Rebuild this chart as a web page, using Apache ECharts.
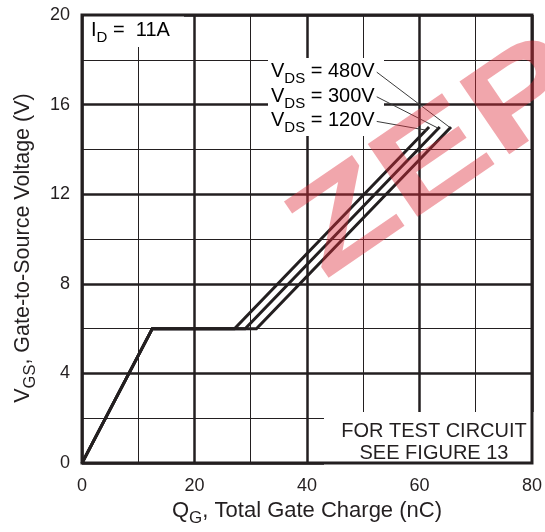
<!DOCTYPE html>
<html>
<head>
<meta charset="utf-8">
<script src="https://cdn.jsdelivr.net/npm/echarts@6/dist/echarts.min.js"></script>
<style>
  html, body { margin: 0; padding: 0; background: #fff; }
  #chart { width: 545px; height: 532px; }
</style>
</head>
<body>
<div id="chart"></div>
<script>
// Gate charge curves (QG in nC, VGS in V) at ID = 11 A
const qg120 = [0, 12.5, 27.1, 61.7];
const vgs120 = [0, 6, 6, 15];
const qg300 = [0, 12.5, 29.0, 63.6];
const vgs300 = [0, 6, 6, 15];
const qg480 = [0, 12.5, 31.0, 65.6];
const vgs480 = [0, 6, 6, 15];

// Leader lines from each VDS label to its curve
const lead480X = [52.4, 65.3];
const lead480Y = [17.45, 15.0];
const lead300X = [52.4, 63.3];
const lead300Y = [16.35, 14.95];
const lead120X = [52.4, 61.4];
const lead120Y = [15.25, 14.85];

const vdsLabels = ['480V', '300V', '120V'];
const xTickLabels = ['0', '20', '40', '60', '80'];
const yTickLabels = ['0', '4', '8', '12', '16', '20'];

const INK = '#231f20';
const FONT = 'Liberation Sans, Arial, Helvetica, sans-serif';

const pairs = (xs, ys) => xs.map((x, i) => [x, ys[i]]);

const chart = echarts.init(document.getElementById('chart'));

const curve = (name, xs, ys) => ({
  name, type: 'line', xAxisIndex: 0, yAxisIndex: 0,
  data: pairs(xs, ys), symbol: 'none', z: 5,
  lineStyle: { color: INK, width: 3, join: 'miter' }, silent: true
});
const leader = (xs, ys) => ({
  type: 'line', xAxisIndex: 0, yAxisIndex: 0,
  data: pairs(xs, ys), symbol: 'none', z: 5,
  lineStyle: { color: '#3b3b3b', width: 1 }, silent: true
});

const subRich = (big, small, drop) => ({
  a: { fontSize: big, fontFamily: FONT, color: INK, verticalAlign: 'bottom', padding: [0, 0, drop, 0] },
  b: { fontSize: small, fontFamily: FONT, color: INK, verticalAlign: 'bottom' }
});

const vdsText = (label, y) => ({
  type: 'text', left: 271, top: y, z: 3, silent: true,
  style: {
    text: '{a|V}{b|DS}{a| = ' + label + '}',
    rich: subRich(20, 15, 5)
  }
});

chart.setOption({
  animation: false,
  backgroundColor: '#fff',
  grid: {
    left: 82, right: 9, top: 15, bottom: 64,
    show: true, backgroundColor: 'transparent',
    borderColor: INK, borderWidth: 3, z: 6
  },
  xAxis: [
    {
      type: 'value', min: 0, max: 80, interval: 10, position: 'bottom',
      name: '{a|Q}{b|G}{a|, Total Gate Charge (nC)}',
      nameLocation: 'middle', nameGap: 36,
      nameTextStyle: { rich: subRich(22, 17, 5) },
      axisLine: { show: false }, axisTick: { show: false },
      axisLabel: {
        margin: 14, fontSize: 18, fontFamily: FONT, color: INK,
        formatter: v => (xTickLabels.includes(String(v)) ? String(v) : '')
      },
      splitLine: { show: true, lineStyle: { color: INK, width: 1 } }
    },
    {
      type: 'value', min: 0, max: 80, interval: 20, position: 'bottom',
      axisLine: { show: false }, axisTick: { show: false }, axisLabel: { show: false },
      splitLine: { show: true, lineStyle: { color: INK, width: 2.5 } }
    }
  ],
  yAxis: [
    {
      type: 'value', min: 0, max: 20, interval: 2, position: 'left',
      name: '{a|V}{b|GS}{a|, Gate-to-Source Voltage (V)}',
      nameLocation: 'middle', nameGap: 43,
      nameTextStyle: { rich: subRich(21.5, 16.5, 5), padding: [0, 18, 0, 0] },
      axisLine: { show: false }, axisTick: { show: false },
      axisLabel: {
        margin: 12, fontSize: 18, fontFamily: FONT, color: INK,
        formatter: v => (yTickLabels.includes(String(v)) ? String(v) : '')
      },
      splitLine: { show: true, lineStyle: { color: INK, width: 1 } }
    },
    {
      type: 'value', min: 0, max: 20, interval: 4, position: 'left',
      axisLine: { show: false }, axisTick: { show: false }, axisLabel: { show: false },
      splitLine: { show: true, lineStyle: { color: INK, width: 2.5 } }
    }
  ],
  series: [
    curve('VDS = 120V', qg120, vgs120),
    curve('VDS = 300V', qg300, vgs300),
    curve('VDS = 480V', qg480, vgs480),
    leader(lead480X, lead480Y),
    leader(lead300X, lead300Y),
    leader(lead120X, lead120Y)
  ],
  graphic: [
    // white panels behind the annotations
    { type: 'rect', shape: { x: 84, y: 16, width: 100, height: 31 }, style: { fill: '#fff' }, z: 1, silent: true },
    { type: 'rect', shape: { x: 268, y: 58, width: 116, height: 78 }, style: { fill: '#fff' }, z: 1, silent: true },
    { type: 'rect', shape: { x: 324, y: 412, width: 212, height: 56 }, style: { fill: '#fff' }, z: 1, silent: true },
    {
      type: 'text', left: 91, top: 20, z: 3, silent: true,
      style: { text: '{a|I}{b|D}{a| =  11A}', rich: subRich(20, 15, 5) }
    },
    vdsText(vdsLabels[0], 61),
    vdsText(vdsLabels[1], 86),
    vdsText(vdsLabels[2], 110),
    {
      type: 'text', x: 434, y: 420, z: 3, silent: true,
      style: {
        text: 'FOR TEST CIRCUIT\nSEE FIGURE 13', align: 'center',
        fontSize: 20, lineHeight: 22, fontFamily: FONT, fill: INK
      }
    },
    // faint red watermark lettering
    {
      type: 'text', x: 438, y: 160, rotation: 0.6, scaleX: 1.3, z: 20, silent: true,
      style: {
        text: 'ZEP', align: 'center', verticalAlign: 'middle',
        fontSize: 128, fontWeight: 'bold', fontFamily: FONT,
        fill: '#dd2b3a', opacity: 0.42
      }
    }
  ]
});
</script>
</body>
</html>
